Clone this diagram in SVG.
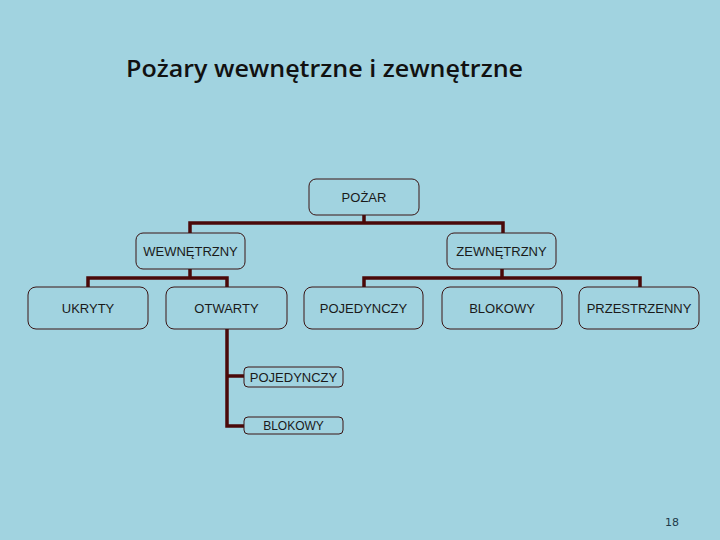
<svg xmlns="http://www.w3.org/2000/svg" width="720" height="540" viewBox="0 0 720 540">
<style>
.box{fill:#a1d3e0;stroke:#3a1414;stroke-width:1}
.lbl{font-family:"Liberation Sans",Arial,sans-serif;font-size:13px;fill:#1a1a1a;text-anchor:middle;dominant-baseline:central}
.sm{font-size:12px}
.con{fill:none;stroke:#4a0808;stroke-width:3.5;stroke-linejoin:miter;stroke-linecap:butt}
</style>
<rect width="720" height="540" fill="#a1d3e0"/>
<text x="126" y="77" font-family="'Open Sans','Noto Sans',sans-serif" font-weight="600" font-size="23" fill="#111" textLength="397" lengthAdjust="spacingAndGlyphs">Pożary wewnętrzne i zewnętrzne</text>
<g id="connectors">
<path class="con" d="M364 215V223M190 233V223H503V233"/>
<path class="con" d="M190 269V278M88 287V278H227V287"/>
<path class="con" d="M502 269V278M364 287V278H640V287"/>
<path class="con" d="M227 329V426H244M227 376H244"/>
</g>
<g id="pozar"><rect class="box" x="309" y="179" width="110" height="36" rx="7"/><text class="lbl" x="364" y="197">POŻAR</text></g>
<g id="wewnetrzny"><rect class="box" x="136" y="233" width="109" height="36" rx="7"/><text class="lbl" x="190.5" y="251">WEWNĘTRZNY</text></g>
<g id="zewnetrzny"><rect class="box" x="447" y="233" width="109" height="36" rx="7"/><text class="lbl" x="501.5" y="251">ZEWNĘTRZNY</text></g>
<g id="ukryty"><rect class="box" x="28" y="287" width="120" height="42" rx="8"/><text class="lbl" x="88" y="308">UKRYTY</text></g>
<g id="otwarty"><rect class="box" x="166" y="287" width="121" height="42" rx="8"/><text class="lbl" x="226.5" y="308">OTWARTY</text></g>
<g id="pojedynczy"><rect class="box" x="304" y="287" width="119" height="42" rx="8"/><text class="lbl" x="363.5" y="308">POJEDYNCZY</text></g>
<g id="blokowy"><rect class="box" x="442" y="287" width="120" height="42" rx="8"/><text class="lbl" x="502" y="308">BLOKOWY</text></g>
<g id="przestrzenny"><rect class="box" x="579" y="287" width="120" height="42" rx="8"/><text class="lbl" x="639" y="308">PRZESTRZENNY</text></g>
<g id="pojedynczy2"><rect class="box" x="244" y="367" width="99" height="20" rx="4"/><text class="lbl" x="293.5" y="377">POJEDYNCZY</text></g>
<g id="blokowy2"><rect class="box" x="244" y="417" width="99" height="17" rx="4"/><text class="lbl sm" x="293.5" y="425.5">BLOKOWY</text></g>
<text x="672" y="526" font-family="'DejaVu Sans',sans-serif" font-size="11" fill="#1f3a4a" text-anchor="middle">18</text>
</svg>
